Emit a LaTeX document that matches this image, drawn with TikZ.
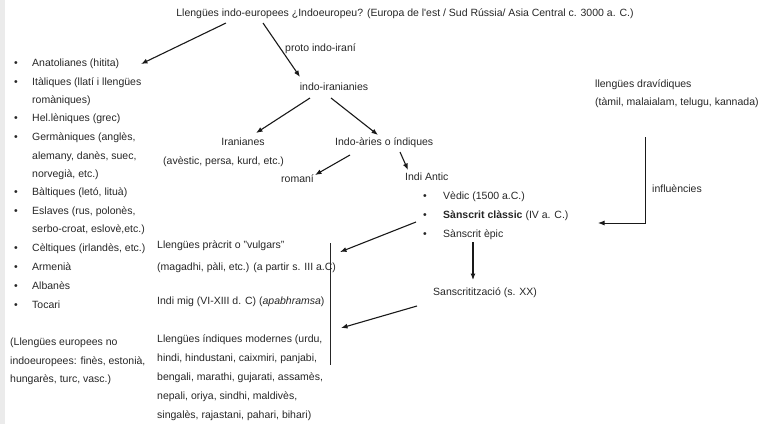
\documentclass[tikz,border=0pt]{standalone}
\usepackage{fontspec}
\setmainfont{Liberation Sans}
\usetikzlibrary{arrows.meta}
\begin{document}
\begin{tikzpicture}[x=1pt,y=-1pt,
  every node/.style={inner sep=0pt, text=black!85, font=\fontsize{10.5}{12}\selectfont, text height=7.6pt, text depth=2.2pt},
  lbl/.style={anchor=west},
  bul/.style={anchor=center},
  arr/.style={line width=1.1pt, draw=black!90, -{Latex[length=6.5pt,width=5pt]}},
  plain/.style={line width=0.9pt, draw=black!85}]
\useasboundingbox (0,0) rectangle (761,424);
\fill[black!8] (0,0) rectangle (5,424);

% title
\node (title) at (405,14) {Llengües indo-europees ¿Indoeuropeu? (Europa de l\textquotesingle est / Sud Rússia/ Asia Central c. 3000 a. C.)};

% left list
\foreach \y/\t [count=\i] in {64/{Anatolianes (hitita)},83/{Itàliques (llatí i llengües},119/{Hel.lèniques (grec)},138/{Germàniques (anglès,},193/{Bàltiques (letó, lituà)},212/{Eslaves (rus, polonès,},249/{Cèltiques (irlandès, etc.)},268/{Armenià},287/{Albanès},306/{Tocari}}
  {\node[bul] (b\i) at (16,\y) {•};}
\node[lbl] (anat) at (32,64) {Anatolianes (hitita)};
\node[lbl] (ital) at (32,83) {Itàliques (llatí i llengües};
\node[lbl] (ital2) at (32,101) {romàniques)};
\node[lbl] (hel) at (32,119) {Hel.lèniques (grec)};
\node[lbl] (germ) at (32,138) {Germàniques (anglès,};
\node[lbl] (germ2) at (32,157) {alemany, danès, suec,};
\node[lbl] (germ3) at (32,175) {norvegià, etc.)};
\node[lbl] (balt) at (32,193) {Bàltiques (letó, lituà)};
\node[lbl] (esl) at (32,212) {Eslaves (rus, polonès,};
\node[lbl] (esl2) at (32,230) {serbo-croat, eslovè,etc.)};
\node[lbl] (celt) at (32,249) {Cèltiques (irlandès, etc.)};
\node[lbl] (arm) at (32,268) {Armenià};
\node[lbl] (alb) at (32,287) {Albanès};
\node[lbl] (toc) at (32,306) {Tocari};

\node[lbl] (ne1) at (10,343) {(Llengües europees no};
\node[lbl] (ne2) at (10,362) {indoeuropees: finès, estonià,};
\node[lbl] (ne3) at (10,380) {hungarès, turc, vasc.)};

% centre tree
\node[lbl] (proto) at (285,49) {proto indo-iraní};
\node (indoir) at (334,88) {indo-iranianies};
\node (iran) at (243,143) {Iranianes};
\node[lbl] (iran2) at (163,162) {(avèstic, persa, kurd, etc.)};
\node[lbl] (indoar) at (335,143) {Indo-àries o índiques};
\node[lbl] (romani) at (281,180) {romaní};
\node[lbl] (antic) at (405,178) {Indi Antic};
\node[bul] (v1) at (425,197) {•};
\node[bul] (v2) at (425,216) {•};
\node[bul] (v3) at (425,235) {•};
\node[lbl] (vedic) at (443,197) {Vèdic (1500 a.C.)};
\node[lbl] (classic) at (443,216) {\textbf{Sànscrit clàssic} (IV a. C.)};
\node[lbl] (epic) at (443,235) {Sànscrit èpic};
\node[lbl] (sansk) at (433,293) {Sanscritització (s. XX)};

\node[lbl] (prac) at (157,246) {Llengües pràcrit o "vulgars"};
\node[lbl] (prac2) at (157,268) {(magadhi, pàli, etc.) (a partir s. III a.C)};
\node[lbl] (mig) at (157,302) {Indi mig (VI-XIII d. C) (\textit{apabhramsa})};
\node[lbl] (mod1) at (157,340) {Llengües índiques modernes (urdu,};
\node[lbl] (mod2) at (157,359) {hindi, hindustani, caixmiri, panjabi,};
\node[lbl] (mod3) at (157,378) {bengali, marathi, gujarati, assamès,};
\node[lbl] (mod4) at (157,397) {nepali, oriya, sindhi, maldivès,};
\node[lbl] (mod5) at (157,416) {singalès, rajastani, pahari, bihari)};

% right
\node[lbl] (drav) at (595,85) {llengües dravídiques};
\node[lbl] (drav2) at (595,103) {(tàmil, malaialam, telugu, kannada)};
\node[lbl] (infl) at (652,190) {influències};

% connector points
\coordinate (t1) at (226,23);
\coordinate (t2) at (263,23);
\coordinate (anatE) at (141,64);
\coordinate (indoirN) at (300,77);
\coordinate (ir1) at (310,98);
\coordinate (ir2) at (331,98);
\coordinate (iranN) at (256,133);
\coordinate (indoarN) at (378,135);
\coordinate (ia1) at (350,155);
\coordinate (ia2) at (400,152);
\coordinate (romaniN) at (315,175);
\coordinate (anticN) at (408,170);
\coordinate (cl) at (416,222);
\coordinate (pracE) at (340,252);
\coordinate (epicS) at (473,242);
\coordinate (sanskN) at (473,280);
\coordinate (sa) at (417,306);
\coordinate (modE) at (341,328);
\coordinate (vtop) at (330,243);
\coordinate (vbot) at (330,365);
\coordinate (dtop) at (645,137);
\coordinate (dcor) at (645,223);
\coordinate (dend) at (598,223);

\draw[arr] (t1) -- (anatE);
\draw[arr] (t2) -- (indoirN);
\draw[arr] (ir1) -- (iranN);
\draw[arr] (ir2) -- (indoarN);
\draw[arr] (ia1) -- (romaniN);
\draw[arr] (ia2) -- (anticN);
\draw[arr] (cl) -- (pracE);
\draw[arr] (epicS) -- (sanskN);
\draw[arr] (sa) -- (modE);
\draw[plain] (vtop) -- (vbot);
\draw[arr, line width=0.9pt] (dtop) -- (dcor) -- (dend);
\end{tikzpicture}
\end{document}
